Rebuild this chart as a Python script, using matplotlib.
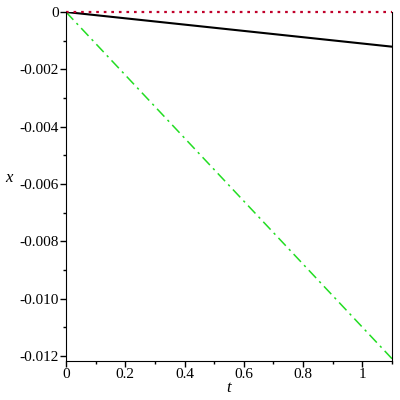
import numpy as np
import matplotlib.pyplot as plt
from matplotlib.ticker import MultipleLocator, FuncFormatter

# donnees
t = np.array([0.0, 1.1])
x_rouge = np.array([0.0, 0.0])
x_noir = np.array([0.0, -0.00121])
x_vert = np.array([0.0, -0.0121])

police = 'Liberation Serif'

fig = plt.figure(figsize=(4, 4), dpi=100)
ax = fig.add_axes([0.165, 0.0975, 0.815, 0.8725])

ax.plot(t, x_vert, color='#22dd22', lw=1.1, ls=(0, (7, 3, 1.5, 3)))
ax.plot(t, x_noir, color='black', lw=1.5)
ax.plot(t, x_rouge, color='#c0002a', lw=1.6, ls=(0, (1.2, 2.2)), clip_on=False)

ax.set_xlim(0, 1.1)
ax.set_ylim(-0.01218, 0)

ax.spines['top'].set_visible(False)
ax.xaxis.set_major_locator(MultipleLocator(0.2))
ax.xaxis.set_minor_locator(MultipleLocator(0.1))
ax.yaxis.set_major_locator(MultipleLocator(0.002))
ax.yaxis.set_minor_locator(MultipleLocator(0.001))

def fx(v, pos):
    s = '%.1f' % v
    return s.rstrip('0').rstrip('.') if '.' in s else s

def fy(v, pos):
    if abs(v) < 1e-9:
        return '0'
    return '-%.3f' % abs(v)

ax.xaxis.set_major_formatter(FuncFormatter(fx))
ax.yaxis.set_major_formatter(FuncFormatter(fy))
ax.tick_params(direction='out', length=4, width=1, labelsize=11, pad=1,
               labelfontfamily=police)
ax.tick_params(which='minor', direction='out', length=2.5, width=1)

ax.set_xlabel('t', family=police, style='italic', fontsize=12, labelpad=-1)
ax.set_ylabel('x', family=police, style='italic', fontsize=12, rotation=0,
              labelpad=8)

fig.savefig('out.png')
